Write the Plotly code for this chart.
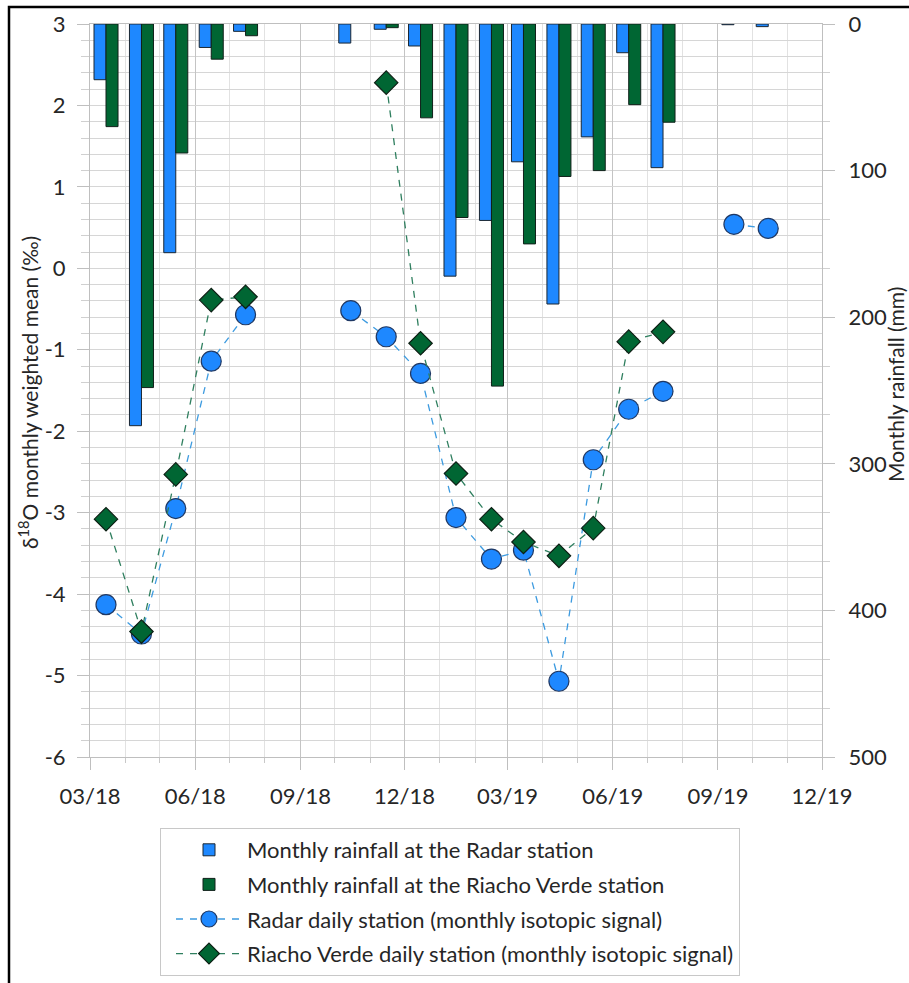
import plotly.graph_objects as go

# Monthly sample dates (mid-month)
months = [
    "2018-03-15", "2018-04-15", "2018-05-15", "2018-06-15", "2018-07-15",
    "2018-08-15", "2018-09-15", "2018-10-15", "2018-11-15", "2018-12-15",
    "2019-01-15", "2019-02-15", "2019-03-15", "2019-04-15", "2019-05-15",
    "2019-06-15", "2019-07-15", "2019-08-15", "2019-09-15", "2019-10-15",
]

# Monthly rainfall (mm)
radar_rain = [38, 274, 156, 16, 5, None, None, 13, 3.6, 15,
              172, 134, 94, 191, 77, 19.6, 98, None, 0.5, 1.8]
rv_rain = [70, 248, 88, 24, 8, None, None, None, 2.5, 64,
           132, 247, 150, 104, 100, 55, 67, None, None, None]

# Monthly weighted mean d18O (per mil)
radar_d18o = [-4.13, -4.49, -2.95, -1.14, -0.57, None, None, -0.52, -0.84, -1.29,
              -3.06, -3.57, -3.46, -5.07, -2.35, -1.73, -1.51, None, 0.54, 0.49]
rv_d18o = [-3.08, -4.46, -2.53, -0.39, -0.35, None, None, None, 2.28, -0.92,
           -2.52, -3.08, -3.36, -3.53, -3.19, -0.90, -0.78, None, None, None]

d18o_ticks = [-6, -5, -4, -3, -2, -1, 0, 1, 2, 3]
d18o_ticktext = ["-6", "-5", "-4", "-3", "-2", "-1", "0", "1", "2", "3"]
rain_ticks = [0, 100, 200, 300, 400, 500]

names = [
    "Monthly rainfall at the Radar station",
    "Monthly rainfall at the Riacho Verde station",
    "Radar daily station (monthly isotopic signal)",
    "Riacho Verde daily station (monthly isotopic signal)",
]

BLUE = "#1E88FF"
GREEN = "#006633"
FONT = "Lato"
TXT = "#262626"

W, H = 909, 983
ML, MR, MT, MB = 90, 87, 24, 226
PW, PH = W - ML - MR, H - MT - MB


def px_x(px):
    return (px - ML) / PW


def px_y(py):
    return (H - MB - py) / PH


bar_w = 10.5 * 86400000  # bar width in ms

fig = go.Figure()

fig.add_trace(go.Bar(
    x=months, y=radar_rain, name=names[0], yaxis="y", legendgroup="a",
    width=bar_w, offset=-bar_w,
    marker=dict(color=BLUE, line=dict(color="#1b2733", width=1)),
))
fig.add_trace(go.Bar(
    x=months, y=rv_rain, name=names[1], yaxis="y", legendgroup="b",
    width=bar_w, offset=0,
    marker=dict(color=GREEN, line=dict(color="#10201a", width=1)),
))
fig.add_trace(go.Scatter(
    x=months, y=radar_d18o, name=names[2], yaxis="y2", legendgroup="c",
    mode="lines+markers", connectgaps=False,
    line=dict(color="#3D9BE0", width=1.3, dash="7px,7px"),
    marker=dict(symbol="circle", size=20, color=BLUE,
                line=dict(color="#1F3864", width=1.2)),
))
fig.add_trace(go.Scatter(
    x=months, y=rv_d18o, name=names[3], yaxis="y2", legendgroup="d",
    mode="lines+markers", connectgaps=False,
    line=dict(color="#2F7F5F", width=1.3, dash="7px,7px"),
    marker=dict(symbol="diamond", size=18, color=GREEN,
                line=dict(color="#0d1f14", width=1.2)),
))

fig.update_layout(
    width=W, height=H,
    margin=dict(l=ML, r=MR, t=MT, b=MB, pad=0, autoexpand=False),
    paper_bgcolor="white", plot_bgcolor="white",
    barmode="overlay",
    font=dict(family=FONT, size=22, color=TXT),
    showlegend=True,
    legend=dict(
        x=px_x(160), y=px_y(828), xanchor="left", yanchor="top",
        bordercolor="#c8c8c8", borderwidth=1, bgcolor="white",
        font=dict(family=FONT, size=22, color=TXT),
        itemwidth=66, indentation=10, tracegroupgap=3,
        traceorder="grouped",
    ),
    xaxis=dict(
        type="date", range=["2018-03-01", "2019-12-01"],
        tick0="2018-03-01", dtick="M3", tickformat="%m/%y",
        ticks="outside", ticklen=12, tickcolor="#bfbfbf",
        showgrid=True, gridcolor="#c4c4c4", gridwidth=1,
        minor=dict(dtick="M1", ticks="outside", ticklen=5, tickcolor="#c8c8c8",
                   showgrid=True, gridcolor="#e2e2e2", gridwidth=1),
        showline=True, linecolor="#bfbfbf", mirror=True,
        tickfont=dict(size=22), ticklabelstandoff=8,
    ),
    yaxis=dict(
        side="right", range=[500, 0], tickvals=rain_ticks,
        ticks="outside", ticklen=12, tickcolor="#bfbfbf",
        showgrid=False, zeroline=False,
        minor=dict(dtick=100 / 3, ticks="outside", ticklen=7,
                   tickcolor="#d0d0d0", showgrid=False),
        showline=True, linecolor="#bfbfbf",
        tickfont=dict(size=22), ticklabelstandoff=9,
    ),
    yaxis2=dict(
        overlaying="y", side="left", range=[-6, 3],
        tickvals=d18o_ticks, ticktext=d18o_ticktext,
        ticks="outside", ticklen=12, tickcolor="#bfbfbf",
        showgrid=True, gridcolor="#d6d6d6", zeroline=False,
        minor=dict(dtick=0.2, ticks="outside", ticklen=8, tickcolor="#d0d0d0",
                   showgrid=True, gridcolor="#d6d6d6"),
        showline=True, linecolor="#bfbfbf",
        tickfont=dict(size=22), ticklabelstandoff=7,
    ),
    annotations=[
        dict(text="δ<sup>18</sup>O monthly weighted mean (‰)", textangle=-90,
             x=px_x(28), y=px_y(393), xref="paper", yref="paper",
             xanchor="center", yanchor="middle",
             showarrow=False, font=dict(size=21, color=TXT)),
        dict(text="Monthly rainfall (mm)", textangle=-90,
             x=px_x(895), y=px_y(385), xref="paper", yref="paper",
             xanchor="center", yanchor="middle",
             showarrow=False, font=dict(size=21, color=TXT)),
    ],
    shapes=[
        dict(type="rect", xref="paper", yref="paper",
             x0=px_x(9), x1=px_x(960), y0=px_y(1020), y1=px_y(7),
             line=dict(color="black", width=2.5), layer="above"),
    ],
)

fig.write_html("out.html")
